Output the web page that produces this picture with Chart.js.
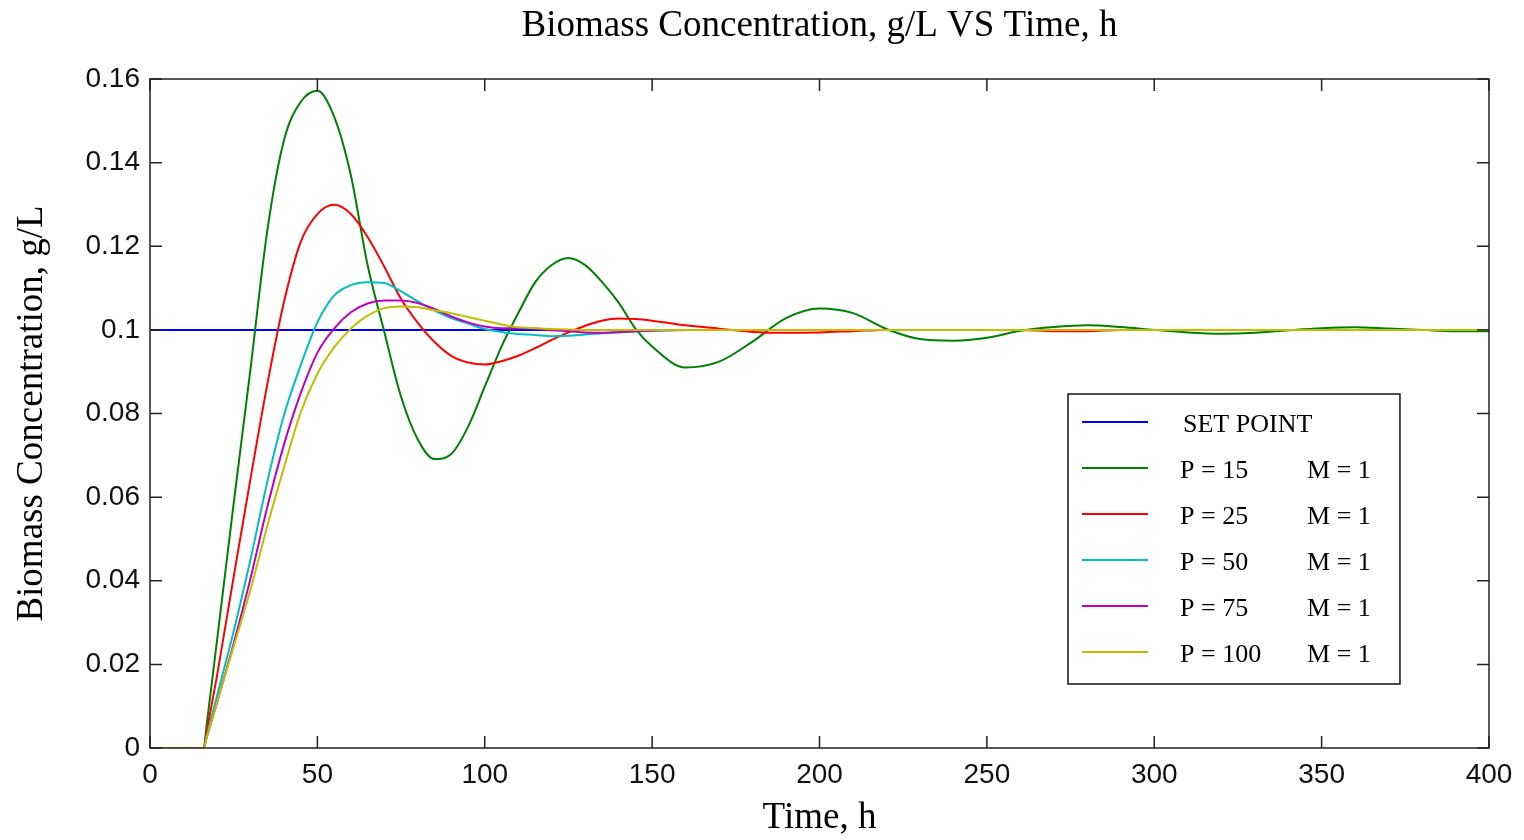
<!DOCTYPE html>
<html lang="en">
<head>
<meta charset="UTF-8" />
<title>Biomass Concentration VS Time</title>
<script src="https://cdn.jsdelivr.net/npm/chart.js"></script>
<style>
  html, body { margin: 0; padding: 0; background: #fff; }
  .wrap { width: 1524px; height: 840px; }
</style>
</head>
<body>
<div class="wrap"><canvas id="bioChart"></canvas></div>
<script>
// time grid, h
const timeH = [0, 16, 17, 20, 25, 30, 35, 40, 45, 50, 55, 60, 65, 70, 75, 80, 85, 90, 95, 100,
  105, 110, 115, 120, 125, 130, 135, 140, 145, 150, 160, 170, 180, 190, 200, 210, 220, 230, 240, 250,
  260, 270, 280, 290, 300, 310, 320, 330, 340, 350, 360, 370, 380, 390, 400];

// biomass, g/L
const p15 = [0, 0, 0.006, 0.0256, 0.0585, 0.0905, 0.1235, 0.1453, 0.1545, 0.1572, 0.151, 0.137, 0.1155, 0.0995, 0.084, 0.0738, 0.0691, 0.0703, 0.0768, 0.0864,
  0.096, 0.104, 0.1113, 0.1155, 0.1172, 0.1155, 0.1115, 0.1065, 0.1003, 0.096, 0.091, 0.0924, 0.0972, 0.1028, 0.1051, 0.104, 0.1002, 0.0978, 0.0974, 0.0981,
  0.0998, 0.1007, 0.1011, 0.1007, 0.1, 0.0994, 0.0991, 0.0993, 0.0999, 0.1004, 0.1006, 0.1003, 0.1, 0.0997, 0.0997];
const p25 = [0, 0, 0.0042, 0.0172, 0.041, 0.0643, 0.0868, 0.1066, 0.121, 0.1277, 0.1299, 0.1277, 0.1222, 0.1151, 0.1074, 0.1017, 0.0971, 0.0938, 0.0922, 0.0917,
  0.0925, 0.0938, 0.0956, 0.0976, 0.0994, 0.101, 0.1022, 0.1027, 0.1026, 0.1022, 0.1011, 0.1003, 0.0995, 0.0993, 0.0994, 0.0997, 0.1, 0.1, 0.1, 0.1,
  0.1, 0.0997, 0.0997, 0.1, 0.1, 0.1, 0.1, 0.1, 0.1, 0.1, 0.1, 0.1, 0.1, 0.1, 0.1];
const p50 = [0, 0, 0.0031, 0.0124, 0.0279, 0.045, 0.0635, 0.0795, 0.0915, 0.1018, 0.1082, 0.1107, 0.1114, 0.1112, 0.1092, 0.1068, 0.1046, 0.1028, 0.1015, 0.1002,
  0.0995, 0.099, 0.0988, 0.0985, 0.0986, 0.0989, 0.0992, 0.0994, 0.0996, 0.0998, 0.1, 0.1, 0.1, 0.1, 0.1, 0.1, 0.1, 0.1, 0.1, 0.1,
  0.1, 0.1, 0.1, 0.1, 0.1, 0.1, 0.1, 0.1, 0.1, 0.1, 0.1, 0.1, 0.1, 0.1, 0.1];
const p75 = [0, 0, 0.0027, 0.0108, 0.025, 0.0405, 0.0575, 0.0725, 0.0848, 0.0945, 0.1003, 0.1042, 0.1063, 0.107, 0.107, 0.1064, 0.105, 0.1032, 0.1018, 0.1008,
  0.1004, 0.1004, 0.1003, 0.0999, 0.0997, 0.0994, 0.0993, 0.0995, 0.0997, 0.0998, 0.1, 0.1, 0.1, 0.1, 0.1, 0.1, 0.1, 0.1, 0.1, 0.1,
  0.1, 0.1, 0.1, 0.1, 0.1, 0.1, 0.1, 0.1, 0.1, 0.1, 0.1, 0.1, 0.1, 0.1, 0.1];
const p100 = [0, 0, 0.0027, 0.0108, 0.0243, 0.0378, 0.053, 0.067, 0.0802, 0.0895, 0.0958, 0.1003, 0.1034, 0.1052, 0.1056, 0.1054, 0.1047, 0.104, 0.1031, 0.1022,
  0.1013, 0.1006, 0.1004, 0.1002, 0.1001, 0.1, 0.1, 0.1, 0.1, 0.1, 0.1, 0.1, 0.1, 0.1, 0.1, 0.1, 0.1, 0.1, 0.1, 0.1,
  0.1, 0.1, 0.1, 0.1, 0.1, 0.1, 0.1, 0.1, 0.1, 0.1, 0.1, 0.1, 0.1, 0.1, 0.1];

const setPointTime = [0, 400];
const setPointValue = [0.1, 0.1];

const seriesLabels = ['SET POINT', 'P = 15', 'P = 25', 'P = 50', 'P = 75', 'P = 100'];
const moveLabels = ['', 'M = 1', 'M = 1', 'M = 1', 'M = 1', 'M = 1'];
const colors = ['#0000ff', '#008000', '#ff0000', '#00bfbf', '#bf00bf', '#bfbf00'];

const serif = "'Liberation Serif', 'Times New Roman', serif";
const sans = "'Liberation Sans', Arial, sans-serif";

function pts(t, vals) {
  return vals.map((v, i) => ({ x: t[i], y: v }));
}

const seriesData = [pts(setPointTime, setPointValue), pts(timeH, p15), pts(timeH, p25),
  pts(timeH, p50), pts(timeH, p75), pts(timeH, p100)];

// title centred over the axes, not the whole canvas
const axesTitle = {
  id: 'axesTitle',
  afterDraw(chart, args, opts) {
    const { ctx, chartArea: a } = chart;
    ctx.save();
    ctx.font = opts.font;
    ctx.fillStyle = '#000';
    ctx.textAlign = 'center';
    ctx.textBaseline = 'middle';
    ctx.fillText(opts.text, (a.left + a.right) / 2, opts.y);
    ctx.restore();
  }
};

// matlab style box with inward ticks on all four sides
const frameTicks = {
  id: 'frameTicks',
  afterDatasetsDraw(chart) {
    const { ctx, chartArea: a, scales: { x, y } } = chart;
    const len = 12;
    ctx.save();
    ctx.strokeStyle = '#222';
    ctx.lineWidth = 1.5;
    ctx.strokeRect(a.left, a.top, a.right - a.left, a.bottom - a.top);
    ctx.beginPath();
    x.ticks.forEach(t => {
      const px = x.getPixelForValue(t.value);
      ctx.moveTo(px, a.bottom); ctx.lineTo(px, a.bottom - len);
      ctx.moveTo(px, a.top); ctx.lineTo(px, a.top + len);
    });
    y.ticks.forEach(t => {
      const py = y.getPixelForValue(t.value);
      ctx.moveTo(a.left, py); ctx.lineTo(a.left + len, py);
      ctx.moveTo(a.right, py); ctx.lineTo(a.right - len, py);
    });
    ctx.stroke();
    ctx.restore();
  }
};

// legend box inside the axes, two text columns
const boxLegend = {
  id: 'boxLegend',
  afterDraw(chart, args, opts) {
    const { ctx, chartArea: a } = chart;
    const w = a.right - a.left, h = a.bottom - a.top;
    const L = a.left + opts.left * w, R = a.left + opts.right * w;
    const T = a.top + opts.top * h, B = a.top + opts.bottom * h;
    ctx.save();
    ctx.fillStyle = '#fff';
    ctx.fillRect(L, T, R - L, B - T);
    ctx.strokeStyle = '#111';
    ctx.lineWidth = 1.5;
    ctx.strokeRect(L, T, R - L, B - T);
    ctx.font = opts.font;
    ctx.textBaseline = 'middle';
    ctx.fillStyle = '#000';
    chart.data.datasets.forEach((ds, i) => {
      const yy = T + opts.firstRow + i * opts.rowStep;
      ctx.strokeStyle = ds.borderColor;
      ctx.lineWidth = 2;
      ctx.beginPath();
      ctx.moveTo(L + 14, yy - 3);
      ctx.lineTo(L + 80, yy - 3);
      ctx.stroke();
      ctx.fillText(ds.label, L + (i === 0 ? 115 : 112), yy);
      if (moveLabels[i]) ctx.fillText(moveLabels[i], L + 239, yy);
    });
    ctx.restore();
  }
};

const order = [5, 4, 3, 2, 1, 0];

new Chart(document.getElementById('bioChart'), {
  type: 'line',
  data: {
    datasets: seriesLabels.map((lab, i) => ({
      label: lab,
      data: seriesData[i],
      borderColor: colors[i],
      backgroundColor: colors[i],
      borderWidth: 2,
      pointRadius: 0,
      fill: false,
      cubicInterpolationMode: 'monotone',
      order: order[i]
    }))
  },
  options: {
    responsive: true,
    maintainAspectRatio: false,
    animation: false,
    layout: { padding: { left: 0, right: 35, top: 79, bottom: 0 } },
    plugins: {
      legend: { display: false },
      tooltip: { enabled: false },
      title: { display: false },
      axesTitle: {
        text: 'Biomass Concentration, g/L VS Time, h',
        font: '37px ' + serif,
        y: 26
      },
      boxLegend: {
        left: 0.6856, right: 0.9335, top: 0.4709, bottom: 0.9043,
        firstRow: 31, rowStep: 46,
        font: '26px ' + serif
      }
    },
    scales: {
      x: {
        type: 'linear',
        min: 0, max: 400,
        grid: { display: false, drawTicks: false },
        border: { display: false },
        ticks: { stepSize: 50, color: '#111', padding: 10, font: { family: sans, size: 28 } },
        title: {
          display: true, text: 'Time, h', color: '#000',
          font: { family: serif, size: 37 }, padding: { top: 0, bottom: 0 }
        },
        afterFit: s => { s.height = 92; }
      },
      y: {
        min: 0, max: 0.16,
        grid: { display: false, drawTicks: false },
        border: { display: false },
        ticks: {
          stepSize: 0.02, color: '#111', padding: 10,
          font: { family: sans, size: 28 },
          callback: v => String(+v.toFixed(2))
        },
        title: {
          display: true, text: 'Biomass Concentration, g/L', color: '#000',
          font: { family: serif, size: 37 }, padding: { top: 10, bottom: 0 }
        },
        afterFit: s => { s.width = 150; }
      }
    }
  },
  plugins: [frameTicks, boxLegend, axesTitle]
});
</script>
</body>
</html>
